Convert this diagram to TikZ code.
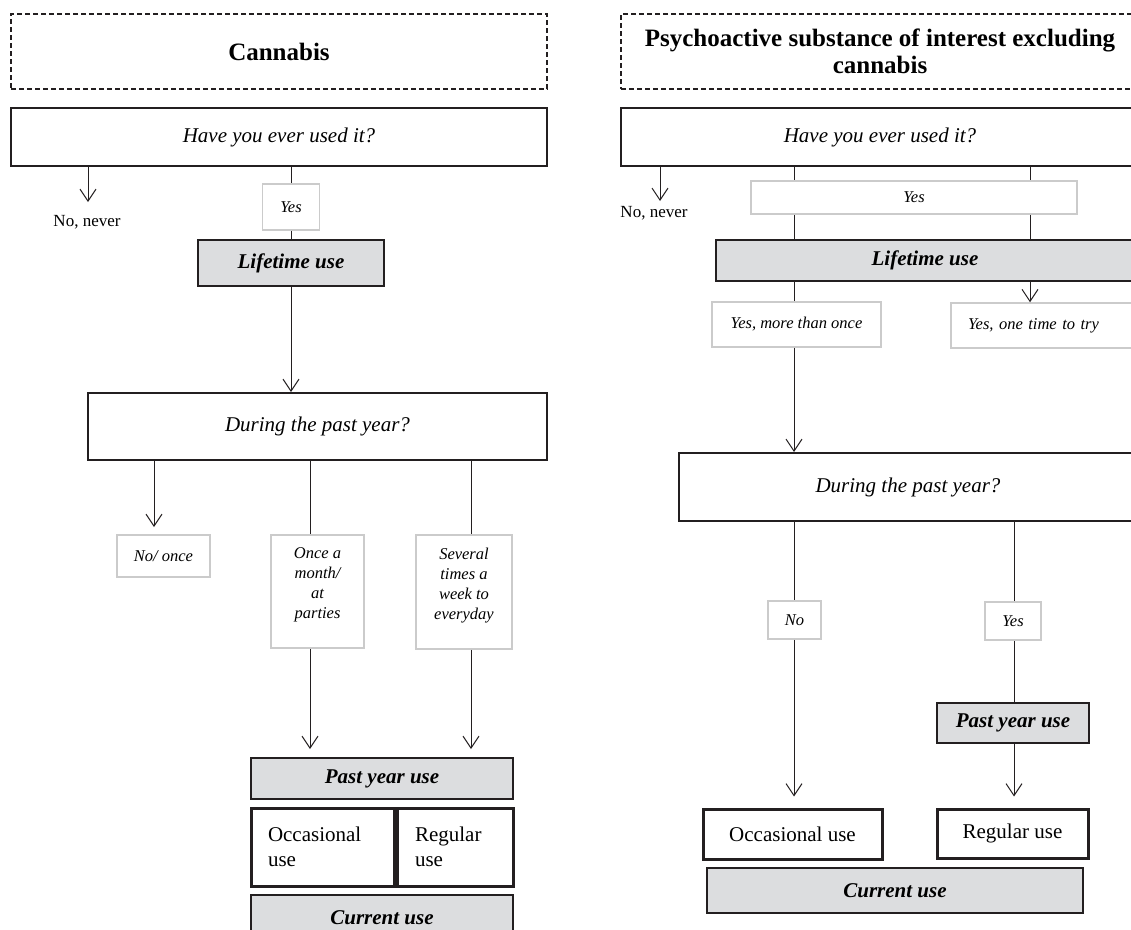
\documentclass[tikz,border=0pt]{standalone}
\usepackage{fontspec}
\setmainfont{Liberation Serif}
\usetikzlibrary{arrows.meta}
\tikzset{>={Straight Barb[length=12pt,width=16pt]}}
\definecolor{boxgray}{HTML}{DCDDDF}
\definecolor{lblgray}{HTML}{CBCBCB}
\definecolor{ink}{HTML}{231F20}
\tikzset{
  titlebox/.style={draw=ink, line width=1.6pt, dash pattern=on 5pt off 3pt, align=center, font=\bfseries\fontsize{25}{27}\selectfont},
  askbox/.style={draw=ink, line width=2pt, font=\itshape\fontsize{21}{25}\selectfont},
  usebox/.style={draw=ink, fill=boxgray, line width=2pt, font=\bfseries\itshape\fontsize{21}{25}\selectfont},
  answer/.style={draw=lblgray, line width=1.5pt, align=center, font=\itshape\fontsize{16.5}{20}\selectfont},
  kindbox/.style={draw=ink, line width=3pt, font=\fontsize{21}{25}\selectfont},
  plain/.style={font=\fontsize{17}{20}\selectfont},
  link/.style={ink, line width=1pt},
}

\begin{document}
\begin{tikzpicture}[x=1pt,y=-1pt]
  \useasboundingbox (0,0) rectangle (1131,929);
  \clip (0,0) rectangle (1131,929);

  % cannabis
  \node[titlebox, minimum width=536, minimum height=75] (ttlL) at (279,51.5) {Cannabis};
  \node[askbox, minimum width=536, minimum height=58] (haveL) at (279,137) {Have you ever used it?};
  \node[plain] (neverL) at (87,222) {No, never};
  \node[answer, minimum width=57, minimum height=46] (yesL) at (291,207) {Yes};
  \node[usebox, minimum width=186, minimum height=46] (lifeL) at (291,263) {Lifetime use};
  \node[askbox, minimum width=459, minimum height=67] (duringL) at (317.5,426.5) {During the past year?};
  \node[answer, minimum width=93, minimum height=42] (noonceL) at (163.5,556) {No/ once};
  \node[answer, minimum width=93, minimum height=113] (onceL) at (317.5,591.5) {};
  \node[answer, draw=none, anchor=north, inner sep=0pt] (onceTxtL) at (317.5,547) {Once a\\month/\\at\\parties};
  \node[answer, minimum width=96, minimum height=114] (severalL) at (464,592) {};
  \node[answer, draw=none, anchor=north, inner sep=0pt] (severalTxtL) at (464,547) {Several\\times a\\week to\\everyday};
  \node[usebox, minimum width=262, minimum height=41] (pastL) at (382,778.5) {Past year use};
  \node[kindbox, minimum width=143, minimum height=78, text width=109pt, inner xsep=17pt, align=left] (occL) at (322.5,847) {Occasional\\use};
  \node[kindbox, minimum width=116, minimum height=78, text width=80pt, inner xsep=18pt, align=left] (regL) at (455,847) {Regular\\use};
  \node[usebox, minimum width=262, minimum height=45] (curL) at (382,917.5) {Current use};

  \coordinate (neverTipL) at (88,202);
  \coordinate (noonceTipL) at (154,527);
  \coordinate (onceLineL) at (310,0);
  \coordinate (severalLineL) at (471,0);

  \draw[link,->] (haveL.south -| neverTipL) -- (neverTipL);
  \draw[link] (yesL.north |- haveL.south) -- (yesL.north);
  \draw[link] (yesL.south) -- (yesL.south |- lifeL.north);
  \draw[link,->] (lifeL.south) -- (lifeL.south |- duringL.north);
  \draw[link,->] (duringL.south -| noonceTipL) -- (noonceTipL);
  \draw[link] (duringL.south -| onceLineL) -- (onceL.north -| onceLineL);
  \draw[link] (duringL.south -| severalLineL) -- (severalL.north -| severalLineL);
  \draw[link,->] (onceL.south -| onceLineL) -- ([yshift=8pt]pastL.north -| onceLineL);
  \draw[link,->] (severalL.south -| severalLineL) -- ([yshift=8pt]pastL.north -| severalLineL);

  % other substances
  \node[titlebox, minimum width=518, minimum height=75] (ttlR) at (880,51.5) {Psychoactive substance of interest excluding\\cannabis};
  \node[askbox, minimum width=518, minimum height=58] (haveR) at (880,137) {Have you ever used it?};
  \node[plain] (neverR) at (654,213) {No, never};
  \node[answer, minimum width=326, minimum height=33] (yesR) at (914,197.5) {Yes};
  \node[usebox, minimum width=418, minimum height=41] (lifeR) at (925,260.5) {Lifetime use};
  \node[answer, minimum width=169, minimum height=45] (moreR) at (796.5,324.5) {Yes, more than once};
  \node[answer, minimum width=184, minimum height=45, text width=150pt, inner xsep=17pt, align=left] (tryR) at (1043,325.5) {Yes, one time to try};
  \node[askbox, minimum width=458, minimum height=68] (duringR) at (908,487) {During the past year?};
  \node[answer, minimum width=53, minimum height=38] (noR) at (794.5,620) {No};
  \node[answer, minimum width=56, minimum height=38] (yespR) at (1013,621) {Yes};
  \node[usebox, minimum width=152, minimum height=40] (pastR) at (1013,723) {Past year use};
  \node[kindbox, minimum width=179, minimum height=50] (occR) at (792.5,834) {Occasional use};
  \node[kindbox, minimum width=151, minimum height=49] (regR) at (1012.5,833.5) {Regular use};
  \node[usebox, minimum width=376, minimum height=45] (curR) at (895,890.5) {Current use};

  \coordinate (neverTipR) at (660,201);
  \coordinate (leftLineR) at (794,0);
  \coordinate (rightLineR) at (1030,0);
  \coordinate (yesLineR) at (1014,0);

  \draw[link,->] (haveR.south -| neverTipR) -- (neverTipR);
  \draw[link] (haveR.south -| leftLineR) -- (yesR.north -| leftLineR);
  \draw[link] (haveR.south -| rightLineR) -- (yesR.north -| rightLineR);
  \draw[link] (yesR.south -| leftLineR) -- (lifeR.north -| leftLineR);
  \draw[link] (yesR.south -| rightLineR) -- (lifeR.north -| rightLineR);
  \draw[link] (lifeR.south -| leftLineR) -- (moreR.north -| leftLineR);
  \draw[link,->] (lifeR.south -| rightLineR) -- (tryR.north -| rightLineR);
  \draw[link,->] (moreR.south -| leftLineR) -- (duringR.north -| leftLineR);
  \draw[link] (duringR.south -| leftLineR) -- (noR.north -| leftLineR);
  \draw[link] (duringR.south -| yesLineR) -- (yespR.north -| yesLineR);
  \draw[link,->] (noR.south -| leftLineR) -- ([yshift=11pt]occR.north -| leftLineR);
  \draw[link] (yespR.south -| yesLineR) -- (pastR.north -| yesLineR);
  \draw[link,->] (pastR.south -| yesLineR) -- ([yshift=11pt]regR.north -| yesLineR);

\end{tikzpicture}
\end{document}
